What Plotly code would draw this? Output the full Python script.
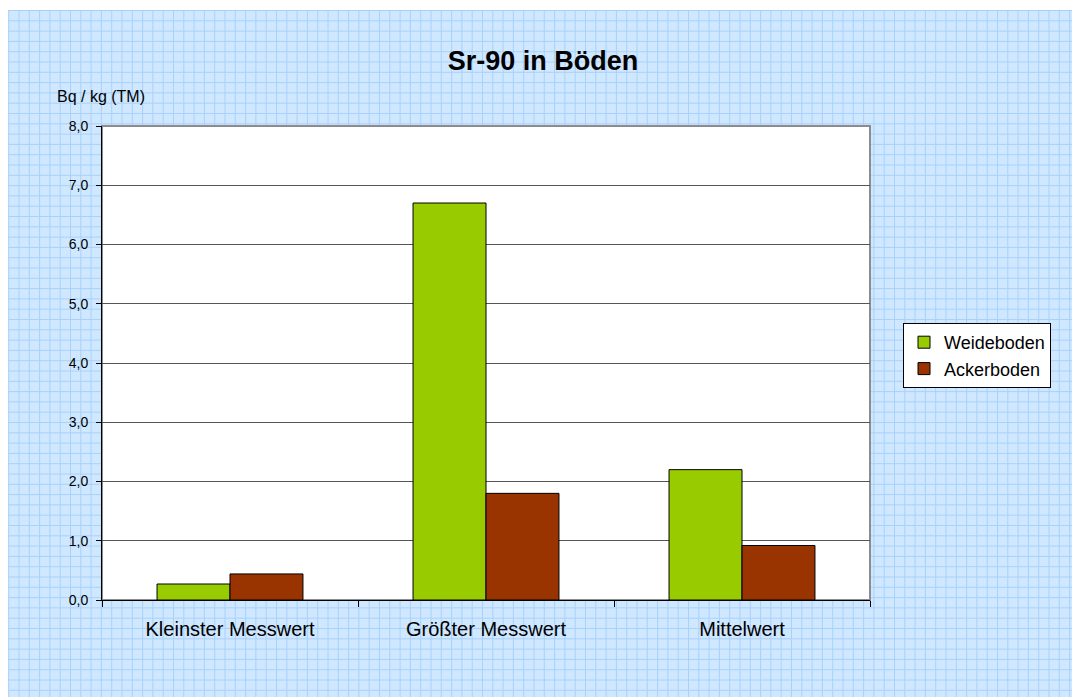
import plotly.graph_objects as go

categories = ["Kleinster Messwert", "Größter Messwert", "Mittelwert"]
weideboden = [0.27, 6.7, 2.2]
ackerboden = [0.44, 1.8, 0.92]
y_ticks = [0, 1, 2, 3, 4, 5, 6, 7, 8]

W, H = 1072, 697
L, R, T, B = 102, 870, 126, 600

def px(x):
    return (x - L) / (R - L)

def py(y):
    return (B - y) / (B - T)

fig = go.Figure()
fig.add_trace(go.Bar(name="Weideboden", x=categories, y=weideboden,
                     marker=dict(color="#99cc00", line=dict(color="#000000", width=1))))
fig.add_trace(go.Bar(name="Ackerboden", x=categories, y=ackerboden,
                     marker=dict(color="#993300", line=dict(color="#000000", width=1))))

shapes = []
shapes.append(dict(type="rect", xref="paper", yref="paper", x0=px(8), x1=px(W), y0=py(H), y1=py(10),
                   fillcolor="#cfe7ff", line=dict(width=0), layer="below"))
gx = 8.7
while gx < W:
    shapes.append(dict(type="line", xref="paper", yref="paper", x0=px(gx), x1=px(gx), y0=py(H), y1=py(10),
                       line=dict(color="#a8d2fa", width=1), layer="below"))
    gx += 10.3
gy = 10.5
while gy < H:
    shapes.append(dict(type="line", xref="paper", yref="paper", x0=px(8), x1=px(W), y0=py(gy), y1=py(gy),
                       line=dict(color="#a8d2fa", width=1), layer="below"))
    gy += 10.3
shapes.append(dict(type="rect", xref="paper", yref="paper", x0=0, x1=1, y0=0, y1=1,
                   fillcolor="#ffffff", line=dict(color="#8c8c8c", width=2), layer="below"))

fig.update_layout(
    width=W, height=H,
    margin=dict(l=L, r=W - R, t=T, b=H - B),
    paper_bgcolor="#ffffff",
    plot_bgcolor="rgba(0,0,0,0)",
    separators=",.",
    font=dict(family="Arial, Liberation Sans, sans-serif", color="#000000"),
    title=dict(text="<b>Sr-90 in Böden</b>", x=543 / W, xref="container", xanchor="center",
               y=1 - 61 / H, yref="container", yanchor="middle", font=dict(size=27)),
    barmode="group", bargap=0.43, bargroupgap=0,
    shapes=shapes,
    showlegend=True,
    legend=dict(x=px(903), y=py(323), xanchor="left", yanchor="top",
                bgcolor="#ffffff", bordercolor="#000000", borderwidth=1,
                font=dict(size=18), itemwidth=30, tracegroupgap=0),
    annotations=[dict(text="Bq / kg (TM)", xref="paper", yref="paper", x=px(55), y=py(97),
                      xanchor="left", yanchor="middle", showarrow=False, font=dict(size=16))],
)
fig.update_xaxes(showline=True, linecolor="#000000", linewidth=1,
                 ticks="outside", tickson="boundaries", ticklen=6, tickcolor="#000000",
                 tickfont=dict(size=20), ticklabelstandoff=11, showgrid=False)
fig.update_yaxes(range=[0, 8], tickvals=y_ticks, tickformat=".1f",
                 showline=True, linecolor="#000000", linewidth=1,
                 ticks="outside", ticklen=5, tickcolor="#000000", ticklabelstandoff=5,
                 showgrid=True, gridcolor="#555555", gridwidth=1,
                 tickfont=dict(size=14), zeroline=False)

fig.write_html("out.html", config={"displayModeBar": False},
               post_script="document.body.style.margin='0';")
